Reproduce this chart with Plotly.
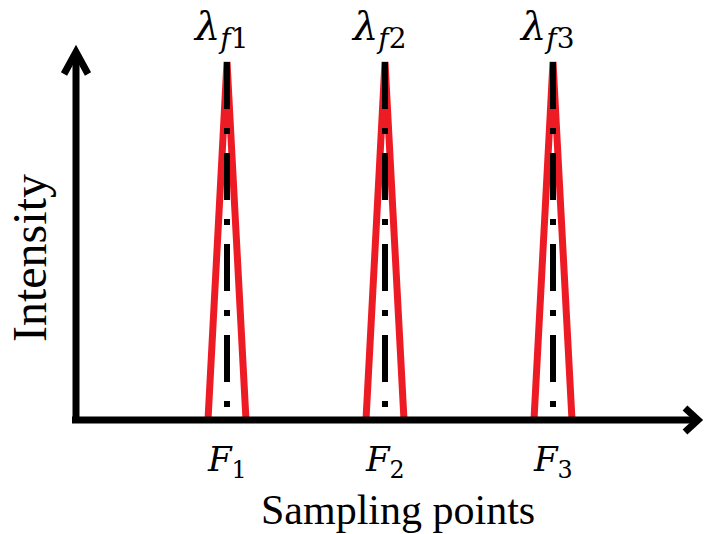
import plotly.graph_objects as go

# ---- data ----
peak_positions = [227, 385, 553]          # sampling point of each peak (F1, F2, F3)
peak_intensity = [1.0, 1.0, 1.0]          # normalised intensity of each peak
peak_halfwidth = [19, 19, 19]             # half width of each triangular peak
peak_labels = ["<i>λ</i><sub><i>f</i>1</sub>", "<i>λ</i><sub><i>f</i>2</sub>", "<i>λ</i><sub><i>f</i>3</sub>"]
point_labels = ["<i>F</i><sub>1</sub>", "<i>F</i><sub>2</sub>", "<i>F</i><sub>3</sub>"]
x_title = "Sampling points"
y_title = "Intensity"

W, H = 705, 534
BASE_PX, TOP_PX = 420, 62
XR = [0, W]
per = 1.0 / (BASE_PX - TOP_PX)
YR = [-(H - BASE_PX) * per, BASE_PX * per]


def ypx(py):
    return (BASE_PX - py) * per


RED = "#ed1c24"
fig = go.Figure()

for x0, h, hw in zip(peak_positions, peak_intensity, peak_halfwidth):
    fig.add_trace(go.Scatter(x=[x0 - hw, x0, x0 + hw], y=[0, h, 0], mode="lines",
                             line=dict(color=RED, width=7), hoverinfo="skip", showlegend=False))
for x0, h in zip(peak_positions, peak_intensity):
    fig.add_trace(go.Scatter(x=[x0, x0], y=[h, 0], mode="lines",
                             line=dict(color="black", width=6, dash="47px,19px,6px,19px"),
                             hoverinfo="skip", showlegend=False))

shapes = []
AX_W = 7
# x axis with arrow
shapes.append(dict(type="line", x0=72, x1=698, y0=0, y1=0, line=dict(color="black", width=AX_W)))
shapes.append(dict(type="path", path=f"M 685 {ypx(408)} L 698 {ypx(420)} L 685 {ypx(432)}",
                   line=dict(color="black", width=AX_W)))
# y axis with arrow
shapes.append(dict(type="line", x0=76, x1=76, y0=ypx(423), y1=ypx(52), line=dict(color="black", width=AX_W)))
shapes.append(dict(type="path", path=f"M 64 {ypx(74)} L 76 {ypx(52)} L 88 {ypx(74)}",
                   line=dict(color="black", width=AX_W)))
for s in shapes:
    s["xref"] = "x"
    s["yref"] = "y"
    s["layer"] = "above"

ann = []
for x0, lab in zip(peak_positions, peak_labels):
    ann.append(dict(x=x0 - 6, y=ypx(29), text=lab, showarrow=False, xanchor="center", yanchor="middle",
                    font=dict(family="DejaVu Serif", size=40, color="black")))
for x0, lab in zip(peak_positions, point_labels):
    ann.append(dict(x=x0, y=ypx(461), text=lab, showarrow=False, xanchor="center", yanchor="middle",
                    font=dict(family="DejaVu Serif", size=34, color="black")))
ann.append(dict(x=398, y=ypx(510), text=x_title, showarrow=False, xanchor="center", yanchor="middle",
                font=dict(family="Liberation Serif", size=42, color="black")))
ann.append(dict(x=29, y=ypx(258), text=y_title, showarrow=False, xanchor="center", yanchor="middle",
                textangle=-90, font=dict(family="Liberation Serif", size=48, color="black")))

fig.update_layout(
    width=W, height=H, margin=dict(l=0, r=0, t=0, b=0),
    paper_bgcolor="white", plot_bgcolor="white",
    xaxis=dict(range=XR, visible=False, fixedrange=True),
    yaxis=dict(range=YR, visible=False, fixedrange=True),
    shapes=shapes, annotations=ann, showlegend=False,
)
fig.write_html("out.html")
